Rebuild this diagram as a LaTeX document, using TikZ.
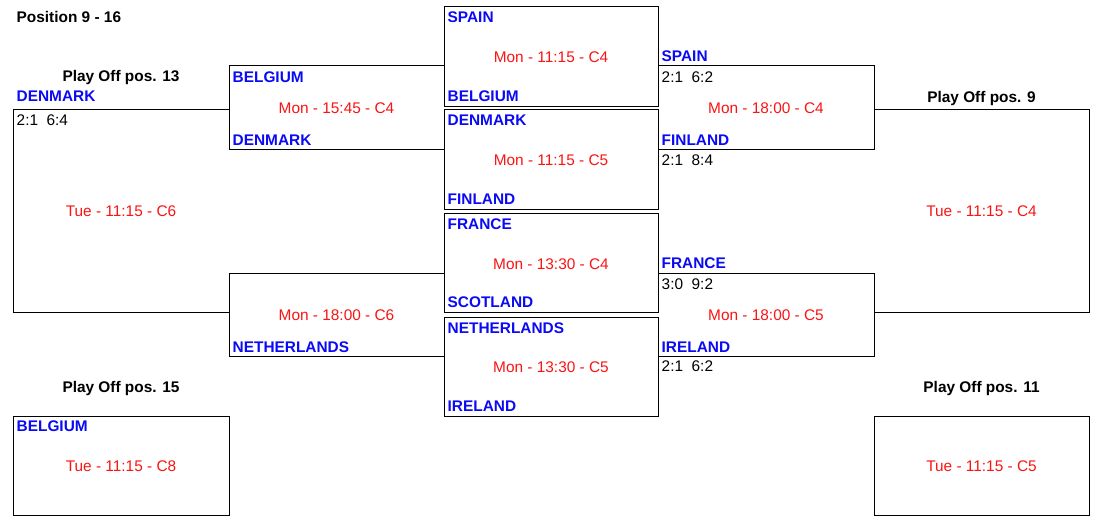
\documentclass[tikz,border=0pt]{standalone}
\usepackage{fontspec}
\setmainfont{Liberation Sans}
\definecolor{tblue}{RGB}{10,10,245}
\definecolor{tred}{RGB}{250,20,20}
\begin{document}
\begin{tikzpicture}[x=1pt,y=-1pt,
  fnt/.style={font=\fontsize{15.4}{18}\selectfont},
  team/.style={text=tblue, font=\bfseries\fontsize{15.4}{18}\selectfont, inner sep=0pt, anchor=base west},
  title/.style={font=\bfseries\fontsize{15.4}{18}\selectfont, inner sep=0pt, anchor=base},
  sched/.style={text=tred, fnt, inner sep=0pt, anchor=base},
  score/.style={fnt, inner sep=0pt, anchor=base west},
  bline/.style={draw=black, line width=1pt, line cap=rect}]
\fill[white] (0,0) rectangle (1118,521);
\useasboundingbox (0,0) rectangle (1118,521);

% ---------- corner coordinates ----------
% central column
\coordinate (c1a) at (444,7);     \coordinate (c1b) at (658,106.5);
\coordinate (c2a) at (444,110);   \coordinate (c2b) at (658,209.5);
\coordinate (c3a) at (444,214);   \coordinate (c3b) at (658,312.3);
\coordinate (c4a) at (444,317);   \coordinate (c4b) at (658,416);

% ---------- lines ----------
\draw[bline] (c1a) rectangle (c1b);
\draw[bline] (c2a) rectangle (c2b);
\draw[bline] (c3a) rectangle (c3b);
\draw[bline] (c4a) rectangle (c4b);
% left middle brackets
\draw[bline] (444,66) -- (229,66) -- (229,150) -- (444,150);
\draw[bline] (444,273) -- (229,273) -- (229,356.5) -- (444,356.5);
% left big bracket
\draw[bline] (229,110) -- (13,110) -- (13,312.3) -- (229,312.3);
% bottom left box
\draw[bline] (13,416) rectangle (229,515);
% right middle brackets
\draw[bline] (658,66) -- (874,66) -- (874,150) -- (658,150);
\draw[bline] (658,273) -- (874,273) -- (874,356.5) -- (658,356.5);
% right big bracket
\draw[bline] (874,110) -- (1089,110) -- (1089,312.3) -- (874,312.3);
% bottom right box
\draw[bline] (874,416) rectangle (1089,515);

% ---------- titles ----------
\node[title, anchor=base west] (t0) at (16.5,23) {Position 9 - 16};
\node[title] (t13) at (121,82) {Play Off pos. 13};
\node[title] (t9) at (981.5,102.3) {Play Off pos. 9};
\node[title] (t15) at (121,392.3) {Play Off pos. 15};
\node[title] (t11) at (981.5,392.3) {Play Off pos. 11};

% ---------- central column ----------
\node[team] (m1t) at (447.5,23) {SPAIN};
\node[sched] (m1s) at (551,62.8) {Mon - 11:15 - C4};
\node[team] (m1b) at (447.5,102) {BELGIUM};

\node[team] (m2t) at (447.5,125.8) {DENMARK};
\node[sched] (m2s) at (551,165.8) {Mon - 11:15 - C5};
\node[team] (m2b) at (447.5,204.8) {FINLAND};

\node[team] (m3t) at (447.5,230) {FRANCE};
\node[sched] (m3s) at (551,269.2) {Mon - 13:30 - C4};
\node[team] (m3b) at (447.5,307.8) {SCOTLAND};

\node[team] (m4t) at (447.5,333) {NETHERLANDS};
\node[sched] (m4s) at (551,372.5) {Mon - 13:30 - C5};
\node[team] (m4b) at (447.5,411.5) {IRELAND};

% ---------- left middle ----------
\node[team] (l1t) at (232.5,82.3) {BELGIUM};
\node[sched] (l1s) at (336.5,114) {Mon - 15:45 - C4};
\node[team] (l1b) at (232.5,145.8) {DENMARK};

\node[sched] (l2s) at (336.5,320.3) {Mon - 18:00 - C6};
\node[team] (l2b) at (232.5,352) {NETHERLANDS};

% ---------- left big ----------
\node[team] (lbt) at (16.5,102) {DENMARK};
\node[score] (lbr) at (16.5,126) {2:1~~6:4};
\node[sched] (lbs) at (121,217) {Tue - 11:15 - C6};

% ---------- bottom left ----------
\node[team] (blt) at (16.5,431) {BELGIUM};
\node[sched] (bls) at (121,471) {Tue - 11:15 - C8};

% ---------- right middle ----------
\node[team] (r1a) at (661.5,62) {SPAIN};
\node[score] (r1r) at (661.5,82.5) {2:1~~6:2};
\node[sched] (r1s) at (766,114) {Mon - 18:00 - C4};
\node[team] (r1b) at (661.5,145.8) {FINLAND};
\node[score] (r1q) at (661.5,165.7) {2:1~~8:4};

\node[team] (r2a) at (661.5,269) {FRANCE};
\node[score] (r2r) at (661.5,289.3) {3:0~~9:2};
\node[sched] (r2s) at (766,320.5) {Mon - 18:00 - C5};
\node[team] (r2b) at (661.5,352) {IRELAND};
\node[score] (r2q) at (661.5,371.8) {2:1~~6:2};

% ---------- right big / bottom right ----------
\node[sched] (rbs) at (981.5,217) {Tue - 11:15 - C4};
\node[sched] (brs) at (981.5,471) {Tue - 11:15 - C5};
\end{tikzpicture}
\end{document}
